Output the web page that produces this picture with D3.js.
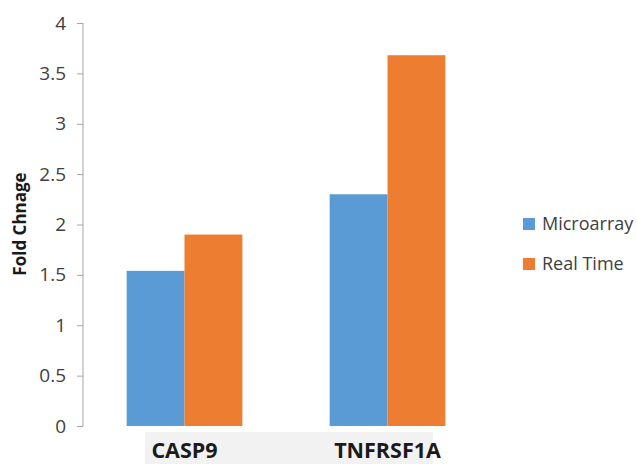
<!DOCTYPE html>
<html>
<head>
<meta charset="utf-8">
<script src="https://cdn.jsdelivr.net/npm/d3@7"></script>
<style>
  body { margin: 0; background: #fff; }
  svg { display: block; font-family: "Open Sans", "Noto Sans", sans-serif; }
</style>
</head>
<body>
<svg id="chart" width="637" height="464"></svg>
<script>
const categories = ["CASP9", "TNFRSF1A"];
const seriesNames = ["Microarray", "Real Time"];
const microarray = [1.54, 2.30];
const realTime = [1.90, 3.68];
const yTicks = [0, 0.5, 1, 1.5, 2, 2.5, 3, 3.5, 4];
const yTickLabels = ["0", "0.5", "1", "1.5", "2", "2.5", "3", "3.5", "4"];
const colors = ["#5b9bd5", "#ed7d31"];

const seriesValues = [microarray, realTime];
const svg = d3.select("#chart");

const x = d3.scaleBand().domain(categories).range([83, 489]).paddingInner(0.43).paddingOuter(0.215);
const xs = d3.scaleBand().domain(seriesNames).range([0, x.bandwidth()]);
const y = d3.scaleLinear().domain([0, 4]).range([426, 23]);

// gray label background
svg.append("rect")
  .attr("x", 145).attr("y", 432).attr("width", 288).attr("height", 40)
  .attr("fill", "#f2f2f2");

// bars
seriesNames.forEach((s, si) => {
  svg.append("g").selectAll("rect")
    .data(categories.map((c, i) => ({ c, v: seriesValues[si][i] })))
    .join("rect")
    .attr("x", d => x(d.c) + xs(s))
    .attr("y", d => y(d.v))
    .attr("width", xs.bandwidth())
    .attr("height", d => y(0) - y(d.v))
    .attr("fill", colors[si]);
});

// y axis
const yAxis = d3.axisLeft(y).tickValues(yTicks)
  .tickFormat((d, i) => yTickLabels[i]).tickSize(6).tickPadding(11);
const gy = svg.append("g").attr("transform", "translate(83,0)").call(yAxis);
gy.select(".domain").attr("stroke", "#a6a6a6").attr("d", "M0,23V426");
gy.selectAll(".tick line").attr("stroke", "#a6a6a6");
gy.selectAll(".tick text").attr("fill", "#404040").style("font-size", "19px")
  .style("font-family", "'Open Sans', sans-serif");

// x labels
svg.append("g").selectAll("text")
  .data(categories).join("text")
  .attr("x", d => x(d) + x.bandwidth() / 2)
  .attr("y", 458)
  .attr("text-anchor", "middle")
  .attr("font-weight", "bold")
  .attr("font-size", "21.5px")
  .attr("fill", "#1a1a1a")
  .text(d => d);

// y label
svg.append("text")
  .attr("transform", "translate(26,224) rotate(-90)")
  .attr("text-anchor", "middle")
  .attr("font-weight", "bold")
  .attr("font-size", "17px")
  .attr("fill", "#1a1a1a")
  .text("Fold Chnage");

// legend
const lg = svg.append("g").selectAll("g").data(seriesNames).join("g")
  .attr("transform", (d, i) => `translate(523,${218 + i * 40})`);
lg.append("rect").attr("width", 12).attr("height", 12).attr("fill", (d, i) => colors[i]);
lg.append("text").attr("x", 19).attr("y", 6).attr("dy", "0.35em")
  .attr("font-size", "18px").attr("fill", "#404040").text(d => d);
</script>
</body>
</html>
